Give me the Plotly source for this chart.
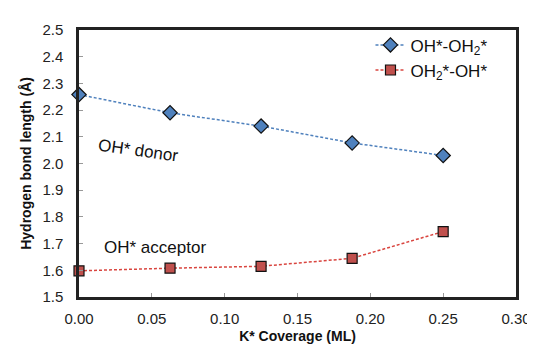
import plotly.graph_objects as go

coverage = [0.0, 0.0625, 0.125, 0.1875, 0.25]
oh_donor = [2.258, 2.19, 2.14, 2.077, 2.03]
oh_acceptor = [1.598, 1.608, 1.615, 1.645, 1.745]
name_donor = "OH*-OH<sub>2</sub>*"
name_acceptor = "OH<sub>2</sub>*-OH*"
x_ticks = [0.0, 0.05, 0.10, 0.15, 0.20, 0.25, 0.30]
y_ticks = [1.5, 1.6, 1.7, 1.8, 1.9, 2.0, 2.1, 2.2, 2.3, 2.4, 2.5]

fig = go.Figure()
fig.add_trace(go.Scatter(
    x=coverage, y=oh_donor, name=name_donor, mode="lines+markers",
    line=dict(color="#4f81bd", dash="3px,2px", width=1.5),
    marker=dict(symbol="diamond", size=11, color="#4f81bd", line=dict(color="#111", width=1.2)),
    cliponaxis=False,
))
fig.add_trace(go.Scatter(
    x=coverage, y=oh_acceptor, name=name_acceptor, mode="lines+markers",
    line=dict(color="#d9453f", dash="3px,2px", width=1.5),
    marker=dict(symbol="square", size=10, color="#c0504d", line=dict(color="#111", width=1.2)),
    cliponaxis=False,
))

fig.add_annotation(x=0.0405, y=2.05, text="OH* donor", showarrow=False, textangle=8,
                   font=dict(size=17, color="#111", family="Liberation Sans, Arial"))
fig.add_annotation(x=0.052, y=1.685, text="OH* acceptor", showarrow=False,
                   font=dict(size=17, color="#111", family="Liberation Sans, Arial"))

axis_common = dict(showline=True, linewidth=2.5, linecolor="#222", mirror=True,
                   ticks="inside", ticklen=4, tickcolor="#999", showgrid=False, zeroline=False,
                   tickfont=dict(size=15, color="#222", family="Liberation Sans, Arial"))

fig.update_layout(
    width=535, height=347,
    margin=dict(l=71, r=18, t=22, b=53),
    paper_bgcolor="white", plot_bgcolor="white",
    font=dict(family="Liberation Sans, Arial", color="#111"),
    xaxis=dict(range=[0, 0.3], tickvals=x_ticks, tickformat=".2f", ticklabelstandoff=6,
               title=dict(text="<b>K* Coverage (ML)</b>", font=dict(size=14), standoff=6),
               **axis_common),
    yaxis=dict(range=[1.5, 2.5], tickvals=y_ticks, tickformat=".1f", ticklabelstandoff=10,
               title=dict(text="<b>Hydrogen bond length (Å)</b>", font=dict(size=14), standoff=8),
               **axis_common),
    legend=dict(x=0.667, y=1.01, xanchor="left", yanchor="top", bgcolor="rgba(0,0,0,0)",
                font=dict(size=17, color="#111"), tracegroupgap=0, itemwidth=30),
    showlegend=True,
)

fig.write_html("out.html")
